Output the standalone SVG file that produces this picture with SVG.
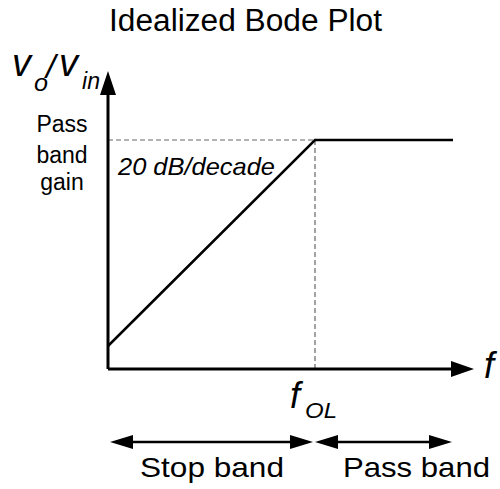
<svg xmlns="http://www.w3.org/2000/svg" width="500" height="489" viewBox="0 0 500 489">
<style>
text{font-family:"Liberation Sans",Arial,sans-serif;fill:#000}
.it{font-style:italic}
.ax{stroke:#000;stroke-width:3;fill:none}
.ln{stroke:#000;stroke-width:2.5;fill:none}
.ds{stroke:#666;stroke-width:1.2;stroke-dasharray:5,3;fill:none}
.hd{fill:#000}
</style>
<rect width="500" height="489" fill="#fff"/>
<g id="title"><text x="109" y="31" font-size="31" textLength="273" lengthAdjust="spacingAndGlyphs">Idealized Bode Plot</text></g>
<g id="ylabel">
<text class="it" x="12" y="76" font-size="38">v</text>
<text class="it" x="34" y="91" font-size="24" textLength="14" lengthAdjust="spacingAndGlyphs">o</text>
<text class="it" x="46" y="78" font-size="34">/</text>
<text class="it" x="59" y="76" font-size="38">v</text>
<text class="it" x="82" y="89" font-size="23" textLength="18" lengthAdjust="spacingAndGlyphs">in</text>
</g>
<g id="gainlabel" font-size="23">
<text x="62" y="132" text-anchor="middle">Pass</text>
<text x="62" y="163" text-anchor="middle">band</text>
<text x="62" y="190" text-anchor="middle">gain</text>
</g>
<g id="slope"><text class="it" x="118" y="175" font-size="24" textLength="157" lengthAdjust="spacingAndGlyphs">20 dB/decade</text></g>
<g id="connectors">
<line class="ds" x1="108" y1="140" x2="315" y2="140"/>
<line class="ds" x1="315" y1="140" x2="315" y2="369"/>
<line class="ax" x1="108" y1="369" x2="108" y2="92"/>
<polygon class="hd" points="108,71 100,95 116,95"/>
<line class="ax" x1="108" y1="369" x2="455" y2="369"/>
<polygon class="hd" points="474,369 451,361 451,377"/>
<polyline class="ln" points="108,346 315,140 453,140"/>
<line class="ln" x1="125" y1="442" x2="298" y2="442"/>
<polygon class="hd" points="110,442 133,435 133,449"/>
<polygon class="hd" points="313,442 290,435 290,449"/>
<line class="ln" x1="330" y1="442" x2="437" y2="442"/>
<polygon class="hd" points="315,442 338,435 338,449"/>
<polygon class="hd" points="452,442 429,435 429,449"/>
</g>
<g id="flabel"><text class="it" x="484" y="378" font-size="36">f</text></g>
<g id="fol">
<text class="it" x="290" y="408" font-size="36">f</text>
<text class="it" x="305" y="418" font-size="22" textLength="32" lengthAdjust="spacingAndGlyphs">OL</text>
</g>
<g id="bands" font-size="28">
<text x="140" y="477" textLength="144" lengthAdjust="spacingAndGlyphs">Stop band</text>
<text x="343" y="477" textLength="147" lengthAdjust="spacingAndGlyphs">Pass band</text>
</g>
</svg>
